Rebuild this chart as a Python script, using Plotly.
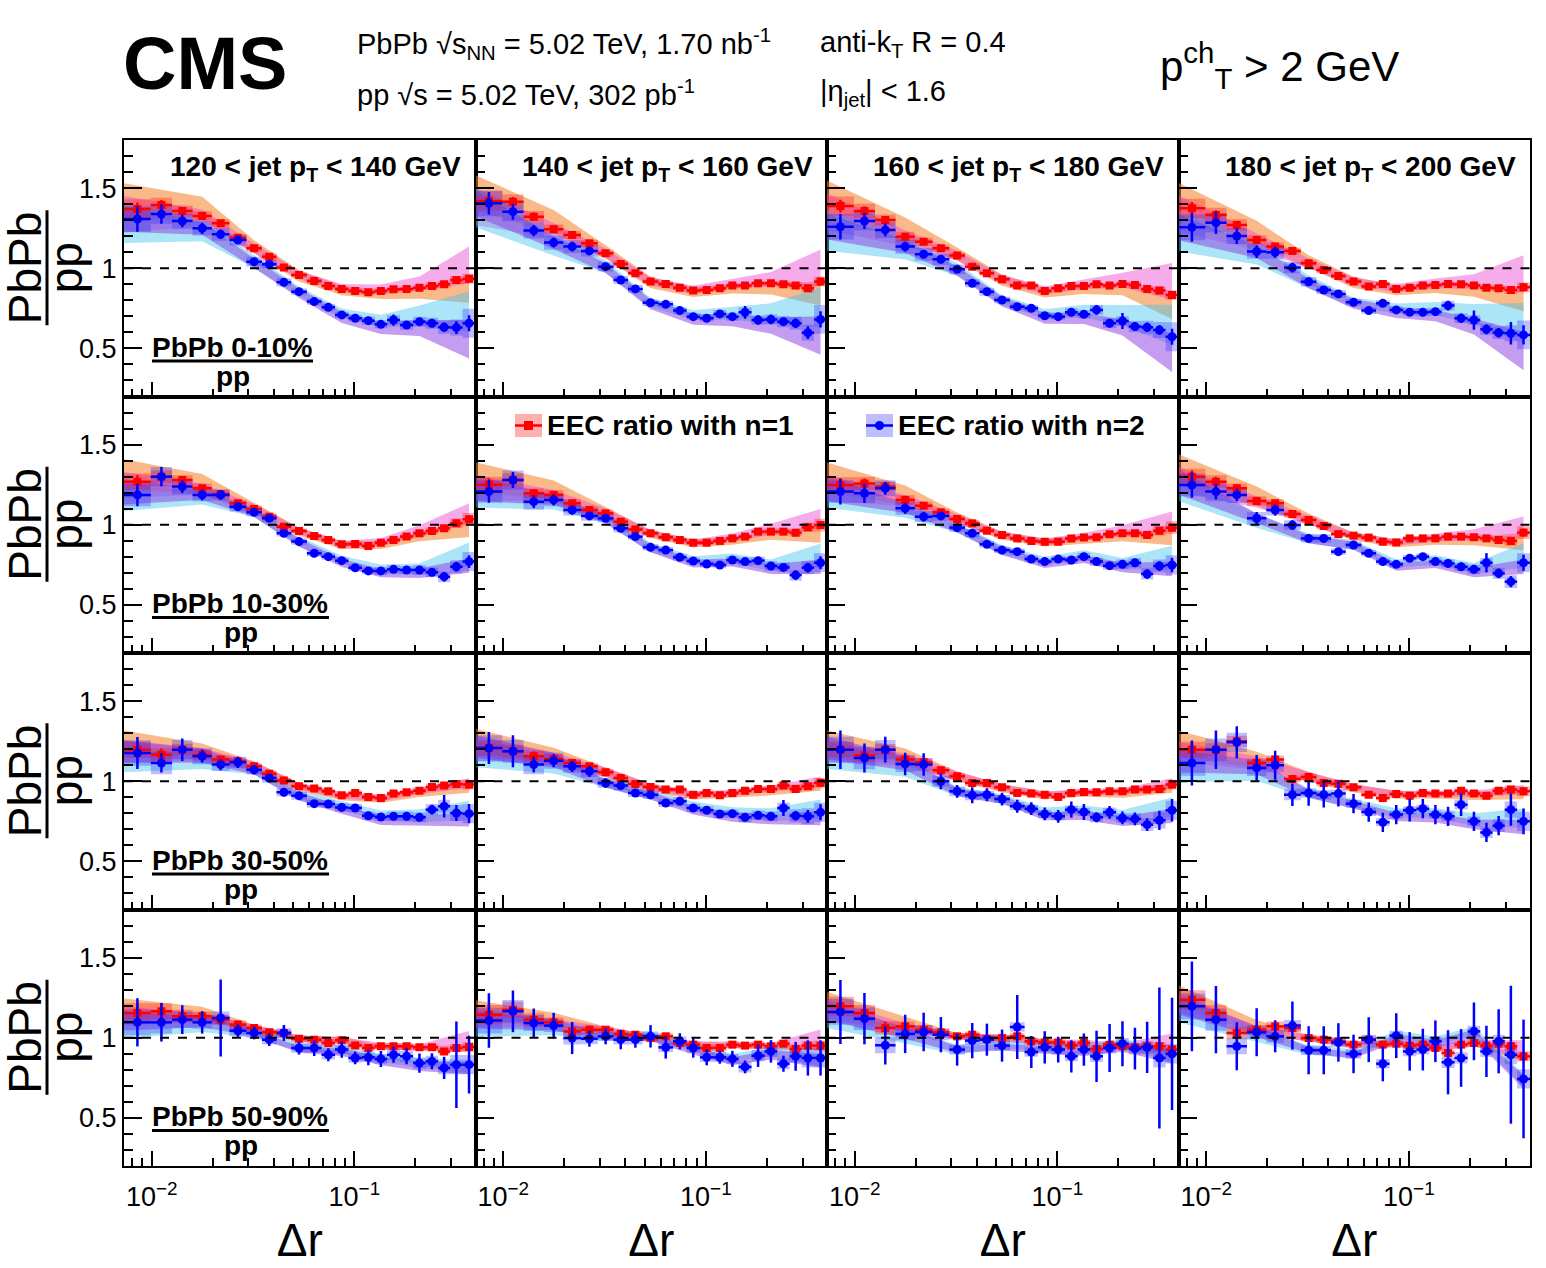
import numpy as np
import plotly.graph_objects as go
from plotly.subplots import make_subplots

# Delta r bin edges (log spaced-ish) shared by all panels
EDGES = [0.0073, 0.0099, 0.0126, 0.0159, 0.0198, 0.0242, 0.0293, 0.035, 0.0413,
         0.0488, 0.0583, 0.0689, 0.0803, 0.0935, 0.109, 0.126, 0.145, 0.168,
         0.195, 0.225, 0.259, 0.297, 0.342, 0.396]

JET_PT = ["120 &lt; jet p<sub>T</sub> &lt; 140 GeV", "140 &lt; jet p<sub>T</sub> &lt; 160 GeV",
          "160 &lt; jet p<sub>T</sub> &lt; 180 GeV", "180 &lt; jet p<sub>T</sub> &lt; 200 GeV"]
CENTRALITY = ["PbPb 0-10%", "PbPb 10-30%", "PbPb 30-50%", "PbPb 50-90%"]

# EEC ratio with n=1 (red) and n=2 (blue); one list per jet pT column
RED_0_10 = [
    [1.37, 1.395, 1.357, 1.326, 1.28, 1.19, 1.124, 1.072, 1.004, 0.958, 0.92, 0.889, 0.871, 0.858, 0.85, 0.858, 0.869, 0.871, 0.879, 0.889, 0.9, 0.927, 0.935],
    [1.42, 1.415, 1.322, 1.243, 1.208, 1.156, 1.093, 1.027, 0.969, 0.917, 0.902, 0.879, 0.861, 0.865, 0.875, 0.892, 0.892, 0.906, 0.906, 0.9, 0.892, 0.875, 0.917],
    [1.388, 1.357, 1.301, 1.197, 1.166, 1.124, 1.079, 1.01, 0.969, 0.931, 0.892, 0.892, 0.858, 0.875, 0.89, 0.89, 0.9, 0.892, 0.902, 0.896, 0.871, 0.861, 0.833],
    [1.374, 1.332, 1.27, 1.176, 1.135, 1.108, 1.031, 0.989, 0.952, 0.917, 0.886, 0.902, 0.871, 0.879, 0.892, 0.896, 0.902, 0.9, 0.892, 0.879, 0.875, 0.865, 0.881],
]
BLUE_0_10 = [
    [1.307, 1.338, 1.295, 1.249, 1.212, 1.176, 1.041, 1.025, 0.912, 0.854, 0.792, 0.756, 0.709, 0.688, 0.673, 0.65, 0.677, 0.646, 0.667, 0.657, 0.632, 0.63, 0.657],
    [1.405, 1.353, 1.235, 1.16, 1.135, 1.108, 1.01, 0.927, 0.871, 0.785, 0.775, 0.736, 0.698, 0.688, 0.715, 0.698, 0.725, 0.677, 0.681, 0.667, 0.657, 0.598, 0.681],
    [1.259, 1.295, 1.239, 1.135, 1.087, 1.056, 0.993, 0.906, 0.854, 0.802, 0.76, 0.75, 0.704, 0.698, 0.725, 0.713, 0.74, 0.657, 0.671, 0.636, 0.632, 0.615, 0.573],
    [1.255, 1.284, 1.201, 1.104, 1.1, 1.004, 0.916, 0.864, 0.84, 0.788, 0.736, 0.781, 0.74, 0.725, 0.725, 0.729, 0.767, 0.688, 0.677, 0.619, 0.598, 0.594, 0.584],
]
RED_10_30 = [
    [1.269, 1.3, 1.279, 1.227, 1.192, 1.134, 1.098, 1.05, 0.988, 0.961, 0.93, 0.905, 0.878, 0.88, 0.868, 0.888, 0.905, 0.926, 0.947, 0.961, 0.978, 1.009, 1.034],
    [1.25, 1.279, 1.196, 1.186, 1.134, 1.092, 1.071, 1.019, 0.971, 0.947, 0.922, 0.905, 0.888, 0.888, 0.899, 0.915, 0.926, 0.957, 0.957, 0.957, 0.95, 0.984, 0.998],
    [1.248, 1.258, 1.238, 1.155, 1.119, 1.078, 1.036, 1.009, 0.963, 0.936, 0.915, 0.899, 0.894, 0.894, 0.915, 0.92, 0.922, 0.94, 0.947, 0.947, 0.936, 0.963, 0.982],
    [1.3, 1.269, 1.227, 1.148, 1.134, 1.067, 1.03, 0.992, 0.942, 0.932, 0.92, 0.894, 0.89, 0.915, 0.915, 0.915, 0.926, 0.926, 0.922, 0.915, 0.905, 0.899, 0.951],
]
BLUE_10_30 = [
    [1.186, 1.3, 1.238, 1.186, 1.186, 1.113, 1.078, 1.04, 0.947, 0.895, 0.822, 0.801, 0.776, 0.732, 0.712, 0.712, 0.722, 0.718, 0.718, 0.703, 0.676, 0.738, 0.77],
    [1.207, 1.279, 1.144, 1.155, 1.092, 1.055, 1.04, 0.978, 0.926, 0.859, 0.842, 0.797, 0.774, 0.755, 0.749, 0.78, 0.77, 0.776, 0.743, 0.734, 0.686, 0.732, 0.763],
    [1.207, 1.196, 1.227, 1.103, 1.05, 1.055, 0.982, 0.947, 0.878, 0.842, 0.832, 0.786, 0.77, 0.786, 0.78, 0.801, 0.77, 0.745, 0.753, 0.763, 0.693, 0.743, 0.749],
    [1.248, 1.207, 1.186, 1.04, 1.092, 0.998, 0.915, 0.915, 0.832, 0.874, 0.822, 0.77, 0.753, 0.791, 0.801, 0.77, 0.759, 0.738, 0.722, 0.763, 0.697, 0.645, 0.763],
]
RED_30_50 = [
    [1.197, 1.166, 1.197, 1.166, 1.135, 1.124, 1.093, 1.047, 1.004, 0.969, 0.954, 0.937, 0.912, 0.927, 0.902, 0.896, 0.923, 0.931, 0.941, 0.964, 0.973, 0.983, 0.979],
    [1.207, 1.187, 1.156, 1.139, 1.114, 1.093, 1.056, 1.02, 0.983, 0.964, 0.948, 0.948, 0.916, 0.927, 0.912, 0.927, 0.941, 0.952, 0.952, 0.973, 0.952, 0.969, 0.99],
    [1.197, 1.16, 1.197, 1.135, 1.118, 1.068, 1.031, 0.989, 0.989, 0.962, 0.927, 0.923, 0.916, 0.902, 0.927, 0.933, 0.931, 0.937, 0.937, 0.948, 0.948, 0.952, 0.979],
    [1.197, 1.197, 1.249, 1.114, 1.135, 1.014, 1.027, 0.989, 0.985, 0.962, 0.916, 0.896, 0.921, 0.91, 0.927, 0.923, 0.923, 0.941, 0.923, 0.91, 0.941, 0.948, 0.937],
]
BLUE_30_50 = [
    [1.176, 1.114, 1.197, 1.156, 1.104, 1.118, 1.072, 1.02, 0.931, 0.91, 0.86, 0.858, 0.837, 0.833, 0.785, 0.777, 0.781, 0.781, 0.775, 0.823, 0.844, 0.802, 0.798],
    [1.207, 1.187, 1.104, 1.128, 1.093, 1.062, 0.989, 0.973, 0.927, 0.916, 0.864, 0.875, 0.833, 0.819, 0.796, 0.798, 0.775, 0.788, 0.781, 0.833, 0.785, 0.781, 0.806],
    [1.197, 1.145, 1.197, 1.108, 1.104, 1.0, 0.937, 0.912, 0.916, 0.889, 0.844, 0.829, 0.796, 0.781, 0.823, 0.808, 0.775, 0.806, 0.771, 0.765, 0.729, 0.756, 0.819],
    [1.114, 1.197, 1.243, 1.083, 1.1, 0.916, 0.927, 0.916, 0.923, 0.86, 0.808, 0.744, 0.792, 0.819, 0.829, 0.792, 0.781, 0.854, 0.75, 0.681, 0.723, 0.823, 0.75],
]
RED_50_90 = [
    [1.155, 1.165, 1.134, 1.134, 1.113, 1.082, 1.061, 1.034, 1.03, 0.994, 0.988, 0.967, 0.984, 0.951, 0.936, 0.947, 0.947, 0.947, 0.94, 0.94, 0.915, 0.936, 0.942],
    [1.144, 1.175, 1.113, 1.096, 1.04, 1.05, 1.05, 1.024, 1.019, 0.998, 1.009, 0.967, 0.957, 0.936, 0.936, 0.957, 0.951, 0.957, 0.947, 0.963, 0.93, 0.951, 0.951],
    [1.196, 1.155, 1.061, 1.071, 1.05, 1.034, 1.009, 1.019, 0.992, 0.998, 1.009, 0.978, 0.971, 0.971, 0.951, 0.967, 0.93, 0.957, 0.947, 0.94, 0.947, 0.947, 0.926],
    [1.237, 1.155, 1.03, 1.05, 1.071, 1.061, 0.998, 0.988, 0.978, 0.957, 0.988, 0.957, 0.963, 0.951, 0.957, 0.936, 0.905, 0.957, 0.967, 0.951, 0.963, 0.947, 0.884],
]
BLUE_50_90 = [
    [1.096, 1.096, 1.113, 1.096, 1.123, 1.044, 1.03, 0.988, 1.03, 0.936, 0.936, 0.894, 0.926, 0.874, 0.878, 0.868, 0.894, 0.884, 0.842, 0.853, 0.812, 0.832, 0.832],
    [1.107, 1.165, 1.092, 1.076, 0.998, 0.994, 1.009, 0.988, 0.988, 1.009, 0.94, 0.978, 0.936, 0.878, 0.878, 0.868, 0.818, 0.888, 0.915, 0.838, 0.884, 0.874, 0.874],
    [1.161, 1.119, 0.953, 1.024, 1.036, 1.019, 0.926, 0.982, 0.988, 0.951, 1.067, 0.911, 0.94, 0.926, 0.884, 0.926, 0.884, 0.936, 0.963, 0.932, 0.94, 0.874, 0.899],
    [1.196, 1.113, 0.947, 1.034, 1.009, 1.076, 0.922, 0.922, 0.971, 0.899, 0.988, 0.838, 1.013, 0.915, 0.926, 0.978, 0.847, 0.874, 1.04, 0.915, 0.978, 0.894, 0.743],
]

# statistical errors
RED_ERR = [
    [0.04, 0.03, 0.025, 0.02, 0.02, 0.02, 0.015, 0.015, 0.015, 0.015, 0.012, 0.012, 0.012, 0.012, 0.012, 0.012, 0.012, 0.012, 0.015, 0.015, 0.015, 0.02, 0.025],
    [0.04, 0.03, 0.025, 0.02, 0.02, 0.02, 0.015, 0.015, 0.015, 0.015, 0.012, 0.012, 0.012, 0.012, 0.012, 0.012, 0.012, 0.015, 0.015, 0.015, 0.015, 0.02, 0.025],
    [0.05, 0.04, 0.03, 0.025, 0.02, 0.02, 0.02, 0.015, 0.015, 0.015, 0.015, 0.015, 0.015, 0.015, 0.015, 0.015, 0.015, 0.015, 0.015, 0.02, 0.02, 0.02, 0.025],
    [0.06, 0.05, 0.04, 0.03, 0.03, 0.025, 0.02, 0.02, 0.02, 0.02, 0.02, 0.02, 0.02, 0.02, 0.02, 0.02, 0.02, 0.02, 0.02, 0.02, 0.02, 0.025, 0.025],
]
BLUE_ERR = [
    [[0.08, 0.06, 0.04, 0.035, 0.03, 0.025, 0.02, 0.02, 0.015, 0.015, 0.015, 0.015, 0.015, 0.015, 0.015, 0.02, 0.035, 0.02, 0.025, 0.025, 0.03, 0.04, 0.05],
     [0.07, 0.05, 0.035, 0.03, 0.03, 0.025, 0.02, 0.02, 0.015, 0.015, 0.015, 0.015, 0.015, 0.015, 0.02, 0.02, 0.04, 0.03, 0.03, 0.025, 0.03, 0.04, 0.05],
     [0.08, 0.05, 0.04, 0.03, 0.025, 0.025, 0.02, 0.02, 0.015, 0.015, 0.015, 0.015, 0.015, 0.015, 0.02, 0.02, 0.03, 0.025, 0.05, 0.025, 0.03, 0.03, 0.05],
     [0.09, 0.07, 0.05, 0.04, 0.035, 0.03, 0.025, 0.025, 0.02, 0.02, 0.02, 0.02, 0.02, 0.02, 0.02, 0.02, 0.03, 0.03, 0.06, 0.03, 0.03, 0.07, 0.06]],
    [[0.07, 0.06, 0.04, 0.035, 0.03, 0.025, 0.02, 0.02, 0.02, 0.015, 0.015, 0.015, 0.015, 0.015, 0.015, 0.015, 0.02, 0.02, 0.02, 0.02, 0.03, 0.03, 0.04],
     [0.07, 0.05, 0.04, 0.035, 0.03, 0.025, 0.02, 0.02, 0.02, 0.015, 0.015, 0.015, 0.015, 0.015, 0.015, 0.02, 0.02, 0.02, 0.02, 0.02, 0.03, 0.03, 0.04],
     [0.08, 0.06, 0.04, 0.035, 0.03, 0.025, 0.02, 0.02, 0.02, 0.015, 0.015, 0.015, 0.015, 0.015, 0.02, 0.02, 0.02, 0.02, 0.02, 0.02, 0.03, 0.03, 0.045],
     [0.08, 0.05, 0.04, 0.04, 0.035, 0.03, 0.025, 0.025, 0.02, 0.02, 0.02, 0.02, 0.02, 0.02, 0.02, 0.02, 0.025, 0.025, 0.025, 0.06, 0.03, 0.035, 0.05]],
    [[0.1, 0.06, 0.07, 0.04, 0.035, 0.035, 0.03, 0.025, 0.025, 0.02, 0.02, 0.02, 0.02, 0.02, 0.025, 0.025, 0.025, 0.025, 0.025, 0.03, 0.07, 0.05, 0.06],
     [0.1, 0.1, 0.05, 0.04, 0.035, 0.035, 0.03, 0.025, 0.025, 0.02, 0.02, 0.02, 0.02, 0.02, 0.025, 0.025, 0.025, 0.025, 0.025, 0.05, 0.03, 0.04, 0.05],
     [0.12, 0.09, 0.08, 0.07, 0.07, 0.05, 0.04, 0.05, 0.04, 0.04, 0.04, 0.04, 0.04, 0.04, 0.05, 0.05, 0.03, 0.04, 0.04, 0.04, 0.04, 0.06, 0.07],
     [0.14, 0.12, 0.1, 0.08, 0.09, 0.07, 0.08, 0.08, 0.08, 0.06, 0.06, 0.06, 0.06, 0.07, 0.06, 0.06, 0.06, 0.07, 0.06, 0.06, 0.06, 0.1, 0.08]],
    [[0.15, 0.12, 0.09, 0.07, 0.24, 0.04, 0.04, 0.04, 0.05, 0.04, 0.05, 0.04, 0.05, 0.04, 0.05, 0.05, 0.05, 0.05, 0.06, 0.05, 0.07, 0.27, 0.18],
     [0.17, 0.13, 0.09, 0.08, 0.1, 0.05, 0.05, 0.06, 0.05, 0.07, 0.07, 0.05, 0.06, 0.05, 0.04, 0.05, 0.04, 0.07, 0.07, 0.05, 0.09, 0.11, 0.11],
     [0.2, 0.16, 0.12, 0.12, 0.12, 0.11, 0.1, 0.11, 0.1, 0.1, 0.2, 0.1, 0.1, 0.08, 0.1, 0.1, 0.16, 0.15, 0.14, 0.13, 0.16, 0.44, 0.35],
     [0.28, 0.21, 0.15, 0.15, 0.1, 0.15, 0.15, 0.15, 0.12, 0.12, 0.14, 0.11, 0.14, 0.12, 0.13, 0.13, 0.2, 0.18, 0.18, 0.16, 0.2, 0.43, 0.37]],
]

# bin-by-bin systematic boxes (half heights), per centrality
RED_BOX = [
    [0.06, 0.045, 0.035, 0.03, 0.025, 0.02, 0.02, 0.02, 0.015, 0.015, 0.015, 0.015, 0.015, 0.015, 0.015, 0.015, 0.015, 0.015, 0.015, 0.02, 0.02, 0.025, 0.03],
    [0.05, 0.04, 0.03, 0.03, 0.025, 0.02, 0.02, 0.02, 0.015, 0.015, 0.015, 0.015, 0.015, 0.015, 0.015, 0.015, 0.015, 0.015, 0.02, 0.02, 0.02, 0.03, 0.04],
    [0.05, 0.04, 0.035, 0.03, 0.025, 0.02, 0.02, 0.02, 0.015, 0.015, 0.015, 0.015, 0.015, 0.015, 0.015, 0.015, 0.015, 0.015, 0.02, 0.02, 0.02, 0.025, 0.03],
    [0.06, 0.05, 0.04, 0.03, 0.03, 0.025, 0.02, 0.02, 0.02, 0.02, 0.02, 0.02, 0.02, 0.02, 0.02, 0.02, 0.02, 0.02, 0.02, 0.02, 0.02, 0.025, 0.03],
]
BLUE_BOX = [
    [0.08, 0.06, 0.05, 0.045, 0.04, 0.035, 0.03, 0.025, 0.025, 0.02, 0.02, 0.02, 0.02, 0.02, 0.025, 0.025, 0.03, 0.03, 0.03, 0.035, 0.04, 0.05, 0.09],
    [0.07, 0.06, 0.05, 0.04, 0.035, 0.03, 0.025, 0.025, 0.02, 0.02, 0.02, 0.02, 0.02, 0.02, 0.02, 0.025, 0.025, 0.025, 0.03, 0.03, 0.035, 0.04, 0.06],
    [0.08, 0.07, 0.06, 0.05, 0.04, 0.035, 0.03, 0.03, 0.025, 0.025, 0.025, 0.025, 0.025, 0.025, 0.025, 0.025, 0.03, 0.03, 0.03, 0.035, 0.04, 0.05, 0.06],
    [0.08, 0.07, 0.05, 0.04, 0.04, 0.035, 0.03, 0.03, 0.03, 0.03, 0.03, 0.03, 0.03, 0.03, 0.03, 0.03, 0.035, 0.035, 0.035, 0.035, 0.04, 0.06, 0.06],
]

# correlated systematic bands: deviations (up / down) at selected bins, per centrality
BAND_NODES = [0, 3, 6, 9, 12, 15, 18, 22]
ORANGE_UP = [[0.16, 0.12, 0.05, 0.03, 0.02, 0.01, 0.0, 0.0],
             [0.14, 0.09, 0.04, 0.02, 0.02, 0.01, 0.0, 0.0],
             [0.12, 0.07, 0.03, 0.02, 0.02, 0.01, 0.01, 0.01],
             [0.09, 0.06, 0.02, 0.02, 0.02, 0.01, 0.01, 0.01]]
ORANGE_DN = [[0.06, 0.03, 0.03, 0.04, 0.04, 0.05, 0.07, 0.15],
             [0.05, 0.03, 0.03, 0.03, 0.03, 0.04, 0.05, 0.11],
             [0.05, 0.03, 0.03, 0.03, 0.03, 0.03, 0.04, 0.05],
             [0.04, 0.03, 0.02, 0.02, 0.02, 0.02, 0.02, 0.03]]
PINK_UP = [[0.08, 0.04, 0.03, 0.025, 0.03, 0.04, 0.07, 0.2],
           [0.06, 0.03, 0.03, 0.02, 0.02, 0.03, 0.05, 0.1],
           [0.05, 0.04, 0.03, 0.02, 0.02, 0.02, 0.02, 0.04],
           [0.04, 0.02, 0.02, 0.02, 0.02, 0.02, 0.02, 0.1]]
PINK_DN = [[0.15, 0.06, 0.03, 0.025, 0.02, 0.02, 0.02, 0.03],
           [0.1, 0.04, 0.03, 0.02, 0.02, 0.02, 0.02, 0.02],
           [0.08, 0.04, 0.03, 0.02, 0.02, 0.02, 0.02, 0.02],
           [0.08, 0.03, 0.02, 0.02, 0.02, 0.02, 0.02, 0.02]]
CYAN_UP = [[0.1, 0.05, 0.04, 0.03, 0.04, 0.06, 0.1, 0.2],
           [0.05, 0.03, 0.03, 0.03, 0.03, 0.04, 0.04, 0.12],
           [0.05, 0.03, 0.03, 0.03, 0.04, 0.04, 0.05, 0.08],
           [0.03, 0.03, 0.03, 0.03, 0.03, 0.03, 0.03, 0.03]]
CYAN_DN = [[0.15, 0.08, 0.04, 0.03, 0.02, 0.02, 0.03, 0.05],
           [0.1, 0.06, 0.03, 0.03, 0.02, 0.02, 0.03, 0.03],
           [0.12, 0.08, 0.03, 0.03, 0.02, 0.02, 0.03, 0.04],
           [0.1, 0.06, 0.03, 0.02, 0.02, 0.02, 0.03, 0.05]]
PURPLE_UP = [[0.08, 0.04, 0.02, 0.02, 0.02, 0.01, 0.01, 0.02],
             [0.1, 0.03, 0.02, 0.02, 0.01, 0.01, 0.01, 0.02],
             [0.08, 0.05, 0.02, 0.02, 0.01, 0.01, 0.01, 0.01],
             [0.06, 0.04, 0.02, 0.01, 0.01, 0.01, 0.01, 0.02]]
PURPLE_DN = [[0.08, 0.04, 0.04, 0.04, 0.05, 0.06, 0.09, 0.22],
             [0.06, 0.03, 0.03, 0.03, 0.04, 0.04, 0.05, 0.07],
             [0.06, 0.04, 0.03, 0.03, 0.04, 0.05, 0.05, 0.08],
             [0.05, 0.03, 0.02, 0.03, 0.04, 0.04, 0.05, 0.06]]

RED = [RED_0_10, RED_10_30, RED_30_50, RED_50_90]
BLUE = [BLUE_0_10, BLUE_10_30, BLUE_30_50, BLUE_50_90]

FONT = "Liberation Sans"
W, H = 1546, 1268
ML, MR, MT, MB = 124, 16, 140, 102

ORANGE = "rgba(244,128,40,0.55)"
PINK = "rgba(235,70,210,0.45)"
CYAN = "rgba(70,195,240,0.45)"
PURPLE = "rgba(140,60,225,0.5)"
RED_FILL = "rgba(255,30,30,0.35)"
BLUE_FILL = "rgba(40,40,255,0.3)"

centers = [np.sqrt(EDGES[i] * EDGES[i + 1]) for i in range(len(EDGES) - 1)]
xplus = [EDGES[i + 1] - centers[i] for i in range(len(centers))]
xminus = [centers[i] - EDGES[i] for i in range(len(centers))]


def px_x(px):
    return (px - ML) / (W - ML - MR)


def px_y(py):
    return (H - MB - py) / (H - MT - MB)


def band(vals, up, dn):
    xs = [EDGES[0]] + [centers[i] for i in BAND_NODES[1:]]
    hi = [vals[i] + up[k] for k, i in enumerate(BAND_NODES)]
    lo = [vals[i] - dn[k] for k, i in enumerate(BAND_NODES)]
    return xs + xs[::-1], hi + lo[::-1]


def boxes(vals, half):
    xs, ys = [], []
    for i, v in enumerate(vals):
        xs += [EDGES[i], EDGES[i + 1], EDGES[i + 1], EDGES[i], EDGES[i], None]
        ys += [v - half[i], v - half[i], v + half[i], v + half[i], v - half[i], None]
    return xs, ys


def text(s, x, y, size, xanchor="center", angle=0):
    return dict(text=s, x=px_x(x), y=px_y(y), xref="paper", yref="paper", showarrow=False,
                xanchor=xanchor, yanchor="middle", textangle=angle,
                font=dict(family=FONT, size=size, color="black"))


fig = make_subplots(rows=4, cols=4, horizontal_spacing=0, vertical_spacing=0)

for r in range(4):
    for c in range(4):
        red = RED[r][c]
        blue = BLUE[r][c]
        # uncertainty bands
        for vals, up, dn, col in [(red, ORANGE_UP, ORANGE_DN, ORANGE),
                                  (red, PINK_UP, PINK_DN, PINK),
                                  (blue, CYAN_UP, CYAN_DN, CYAN),
                                  (blue, PURPLE_UP, PURPLE_DN, PURPLE)]:
            bx, by = band(vals, up[r], dn[r])
            fig.add_trace(go.Scatter(x=bx, y=by, mode="lines", fill="toself",
                                     fillcolor=col, line=dict(width=0),
                                     hoverinfo="skip", showlegend=False),
                          row=r + 1, col=c + 1)
        # bin-by-bin boxes
        for vals, half, col in [(red, RED_BOX[r], RED_FILL), (blue, BLUE_BOX[r], BLUE_FILL)]:
            bx, by = boxes(vals, half)
            fig.add_trace(go.Scatter(x=bx, y=by, mode="lines", fill="toself",
                                     fillcolor=col, line=dict(width=0),
                                     hoverinfo="skip", showlegend=False),
                          row=r + 1, col=c + 1)
        # data points
        fig.add_trace(go.Scatter(
            x=centers, y=red, mode="markers",
            marker=dict(symbol="square", size=8, color="#ff0000"),
            error_y=dict(type="data", array=RED_ERR[r], color="#ff0000", thickness=2.5, width=0),
            error_x=dict(type="data", symmetric=False, array=xplus, arrayminus=xminus,
                         color="#ff0000", thickness=2.5, width=0),
            name="EEC ratio with n=1", showlegend=False), row=r + 1, col=c + 1)
        fig.add_trace(go.Scatter(
            x=centers, y=blue, mode="markers",
            marker=dict(symbol="circle", size=9, color="#0000ff"),
            error_y=dict(type="data", array=BLUE_ERR[r][c], color="#0000ff", thickness=2.5, width=0),
            error_x=dict(type="data", symmetric=False, array=xplus, arrayminus=xminus,
                         color="#0000ff", thickness=2.5, width=0),
            name="EEC ratio with n=2", showlegend=False), row=r + 1, col=c + 1)
        fig.add_hline(y=1, line=dict(color="black", width=2, dash="dash"), row=r + 1, col=c + 1)

        fig.update_xaxes(
            type="log", range=[np.log10(EDGES[0]), np.log10(EDGES[-1])],
            showline=True, mirror=True, linecolor="black", linewidth=2,
            showgrid=False, zeroline=False,
            ticks="inside", ticklen=15, tickwidth=2, tickcolor="black",
            tickvals=[0.01, 0.1], ticktext=["10<sup>\u22122</sup>", "10<sup>\u22121</sup>"],
            showticklabels=(r == 3), ticklabelstandoff=6,
            tickfont=dict(family=FONT, size=27, color="black"),
            minor=dict(tickmode="array",
                       tickvals=[0.008, 0.009, 0.02, 0.03, 0.04, 0.05, 0.06, 0.07, 0.08, 0.09, 0.2, 0.3],
                       ticks="inside", ticklen=8, tickwidth=2, tickcolor="black", showgrid=False),
            row=r + 1, col=c + 1)
        if r == 3:
            fig.update_xaxes(title=dict(text="\u0394r", font=dict(family=FONT, size=46, color="black"),
                                        standoff=12), row=r + 1, col=c + 1)
        fig.update_yaxes(
            range=[0.2, 1.8], showline=True, mirror=True, linecolor="black", linewidth=2,
            showgrid=False, zeroline=False,
            ticks="inside", ticklen=18, tickwidth=2, tickcolor="black",
            tickvals=[0.5, 1, 1.5], showticklabels=(c == 0), ticklabelstandoff=0,
            tickfont=dict(family=FONT, size=27, color="black"),
            minor=dict(dtick=0.1, ticks="inside", ticklen=9, tickwidth=2, tickcolor="black", showgrid=False),
            row=r + 1, col=c + 1)

annotations = []
shapes = []
for r in range(4):
    top = MT + r * 256.5
    mid = top + 128.25
    # y-axis title as fraction
    annotations.append(text("PbPb", 25, mid, 46, angle=-90))
    annotations.append(text("pp", 66, mid, 46, angle=-90))
    shapes.append(dict(type="line", xref="paper", yref="paper", x0=px_x(47), x1=px_x(47),
                       y0=px_y(mid - 58), y1=px_y(mid + 57), line=dict(color="black", width=3)))
    # centrality label
    bar_right = 313 if r == 0 else 329
    annotations.append(text("<b>%s</b>" % CENTRALITY[r], 150, top + 207, 28, xanchor="left"))
    annotations.append(text("<b>pp</b>", (152 + bar_right) / 2, top + 236, 28))
    shapes.append(dict(type="line", xref="paper", yref="paper", x0=px_x(152), x1=px_x(bar_right),
                       y0=px_y(top + 221), y1=px_y(top + 221), line=dict(color="black", width=3)))

for c in range(4):
    left = ML + c * 351.5
    annotations.append(text("<b>%s</b>" % JET_PT[c], left + 339, MT + 28, 28, xanchor="right"))

# legend entries
for left, col, sym, label in [(515, "#ff0000", "rect", "EEC ratio with n=1"),
                              (866, "#0000ff", "circle", "EEC ratio with n=2")]:
    fill = RED_FILL if sym == "rect" else BLUE_FILL
    shapes.append(dict(type="rect", xref="paper", yref="paper", x0=px_x(left), x1=px_x(left + 27),
                       y0=px_y(414), y1=px_y(437), fillcolor=fill, line=dict(width=0)))
    shapes.append(dict(type="line", xref="paper", yref="paper", x0=px_x(left), x1=px_x(left + 27),
                       y0=px_y(425.5), y1=px_y(425.5), line=dict(color=col, width=2.5)))
    shapes.append(dict(type=sym, xref="paper", yref="paper", x0=px_x(left + 9), x1=px_x(left + 18),
                       y0=px_y(421), y1=px_y(430), fillcolor=col, line=dict(width=0)))
    annotations.append(text("<b>%s</b>" % label, left + 30, 425, 28, xanchor="left"))

# header
annotations += [
    text("<b>CMS</b>", 121, 63, 74, xanchor="left"),
    text("PbPb \u221as<sub>NN</sub> = 5.02 TeV, 1.70 nb<sup>-1</sup>", 355, 44, 29, xanchor="left"),
    text("pp \u221as = 5.02 TeV, 302 pb<sup>-1</sup>", 355, 93, 29, xanchor="left"),
    text("anti-k<sub>T</sub> R = 0.4", 818, 44, 29, xanchor="left"),
    text("|\u03b7<sub>jet</sub>| &lt; 1.6", 818, 93, 29, xanchor="left"),
    text("p<sup>ch</sup><sub>T</sub> &gt; 2 GeV", 1158, 66, 42, xanchor="left"),
]

fig.update_layout(
    width=W, height=H,
    margin=dict(l=ML, r=MR, t=MT, b=MB),
    paper_bgcolor="white", plot_bgcolor="white",
    showlegend=False,
    annotations=list(fig.layout.annotations) + annotations,
    shapes=list(fig.layout.shapes) + shapes,
)

# drop the browser's default page margin so the figure sits at the window origin
fig.write_html("out.html", config={"displayModeBar": False},
               post_script="document.body.style.margin='0px';")
